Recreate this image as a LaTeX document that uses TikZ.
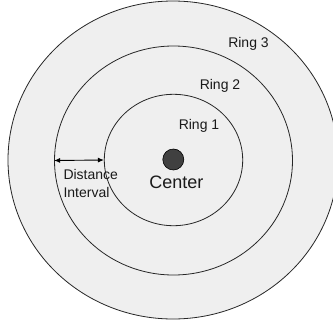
\documentclass[tikz,border=0pt]{standalone}
\usepackage{fontspec}
\setmainfont{Liberation Sans}
\usetikzlibrary{shapes.geometric,arrows.meta}
\definecolor{ringfill}{HTML}{EFEFEF}
\definecolor{dotfill}{HTML}{404040}
\definecolor{txt}{HTML}{1A1A1A}
\begin{document}
\begin{tikzpicture}[x=1pt,y=-1pt,
  ring/.style={ellipse,draw=black!85,line width=0.8pt,inner sep=0pt,fill=ringfill},
  lbl/.style={text=txt,font=\fontsize{14}{18.3}\selectfont,inner sep=0pt},
  dim/.style={line width=0.9pt,{Latex[length=6pt,width=5pt]}-{Latex[length=6pt,width=5pt]}}]
\useasboundingbox (0,0) rectangle (333,325);
\clip (0,0) rectangle (333,325);
\fill[white] (0,0) rectangle (333,325);
\node[ring,minimum width=330pt,minimum height=318pt] (ring3) at (173,160) {};
\node[ring,minimum width=238pt,minimum height=229pt] (ring2) at (173.5,160.5) {};
\node[ring,minimum width=138.4pt,minimum height=131.4pt] (ring1) at (173.5,160) {};
\node[circle,draw=black,line width=0.6pt,fill=dotfill,minimum size=21pt,inner sep=0pt] (center) at (173.3,159.5) {};
\node[lbl] (l3) at (248.5,44) {Ring 3};
\node[lbl] (l2) at (220,85.5) {Ring 2};
\node[lbl] (l1) at (199,125.7) {Ring 1};
\node[lbl,font=\fontsize{18}{20}\selectfont] (lc) at (176.3,182.3) {Center};
\node[lbl,align=left,anchor=west] (ld) at (63.3,183.2) {Distance\\Interval};
\draw[dim] (ring2.west) -- (ring1.west);
\end{tikzpicture}
\end{document}
